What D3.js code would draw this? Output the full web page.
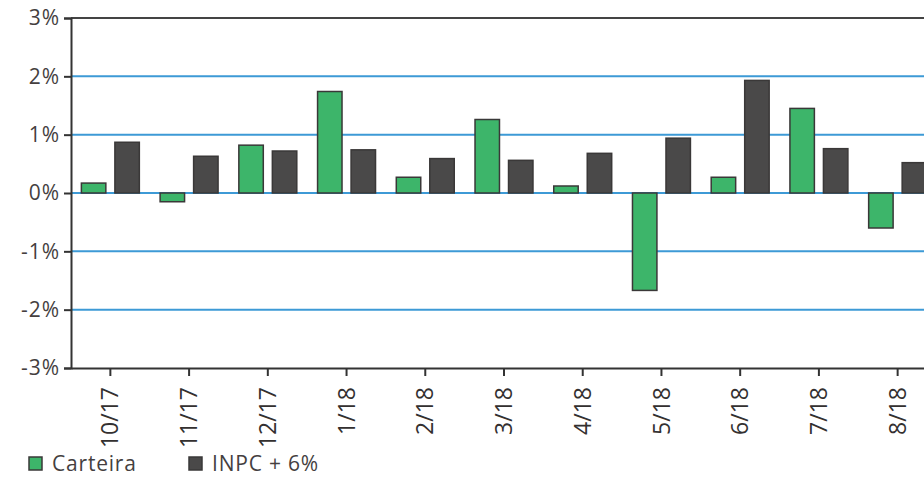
<!DOCTYPE html>
<html>
<head>
<meta charset="utf-8">
<script src="https://cdn.jsdelivr.net/npm/d3@7"></script>
<style>
  body { margin: 0; background: #fff; overflow: hidden; }
  svg { display: block; }
</style>
</head>
<body>
<div id="chart"></div>
<script>
(function () {

var months = ["10/17", "11/17", "12/17", "1/18", "2/18", "3/18", "4/18", "5/18", "6/18", "7/18", "8/18"];
var carteira = [0.17, -0.15, 0.82, 1.74, 0.27, 1.26, 0.12, -1.67, 0.27, 1.45, -0.6];
var inpc = [0.87, 0.63, 0.72, 0.74, 0.59, 0.56, 0.68, 0.94, 1.93, 0.76, 0.52];
var seriesNames = ["Carteira", "INPC + 6%"];
var yTicks = [-3, -2, -1, 0, 1, 2, 3];

var width = 924, height = 477;
var colors = { "Carteira": "#3db56a", "INPC + 6%": "#4a4949" };
var font = "'Open Sans', 'DejaVu Sans', sans-serif";

var svg = d3.select("#chart").append("svg")
    .attr("width", width)
    .attr("height", height);

// plot spans past the right edge like the scan
var x = d3.scaleBand().domain(months).range([71, 937]).padding(0);
var xs = d3.scaleBand().domain(seriesNames).range([0, x.bandwidth()])
    .paddingInner(0.27).paddingOuter(0.31);
var y = d3.scaleLinear().domain([-3, 3]).range([368, 18]);

var data = months.map(function (m, i) {
  return { month: m, values: [
    { name: "Carteira", v: carteira[i] },
    { name: "INPC + 6%", v: inpc[i] }
  ]};
});

// grid lines
svg.append("g").selectAll("line")
  .data(yTicks.filter(function (t) { return t > -3 && t < 3; }))
  .enter().append("line")
    .attr("x1", x.range()[0]).attr("x2", x.range()[1])
    .attr("y1", function (d) { return y(d); })
    .attr("y2", function (d) { return y(d); })
    .style("stroke", "#3d9ad6")
    .style("stroke-width", 2);

// top border
svg.append("line")
    .attr("x1", x.range()[0]).attr("x2", x.range()[1])
    .attr("y1", y(3)).attr("y2", y(3))
    .style("stroke", "#444")
    .style("stroke-width", 2);

// bars
var groups = svg.append("g").selectAll("g")
  .data(data)
  .enter().append("g")
    .attr("transform", function (d) { return "translate(" + x(d.month) + ",0)"; });

groups.selectAll("rect")
  .data(function (d) { return d.values; })
  .enter().append("rect")
    .attr("x", function (d) { return xs(d.name); })
    .attr("width", xs.bandwidth())
    .attr("y", function (d) { return y(Math.max(0, d.v)); })
    .attr("height", function (d) { return Math.abs(y(d.v) - y(0)); })
    .style("fill", function (d) { return colors[d.name]; })
    .style("stroke", "#3a3838")
    .style("stroke-width", 1.5);

// y axis
var yAxis = svg.append("g")
    .attr("transform", "translate(" + x.range()[0] + ",0)")
    .call(d3.axisLeft(y).tickValues(yTicks)
      .tickFormat(function (d) { return d + "%"; })
      .tickSize(7).tickPadding(4));
yAxis.select(".domain").style("stroke", "#333").style("stroke-width", 2);
yAxis.selectAll(".tick line").style("stroke", "#333").style("stroke-width", 2);
yAxis.selectAll("text")
    .style("font-family", font)
    .style("font-size", "21px")
    .style("letter-spacing", "1px")
    .style("fill", "#453f3f");

// x axis
var xAxis = svg.append("g")
    .attr("transform", "translate(0," + y(-3) + ")")
    .call(d3.axisBottom(x).tickSize(8).tickSizeOuter(0));
xAxis.select(".domain").style("stroke", "#333").style("stroke-width", 2);
xAxis.selectAll(".tick line").style("stroke", "#333").style("stroke-width", 2);
xAxis.selectAll("text")
    .attr("transform", "rotate(-90)")
    .attr("text-anchor", "end")
    .attr("x", -19)
    .attr("y", 0)
    .attr("dy", "0.35em")
    .style("font-family", font)
    .style("font-size", "23px")
    .style("fill", "#333030");

// legend
var legend = svg.append("g").selectAll("g")
  .data(seriesNames)
  .enter().append("g")
    .attr("transform", function (d, i) { return "translate(" + (29 + i * 160) + ",457)"; });

legend.append("rect")
    .attr("width", 13).attr("height", 13)
    .style("fill", function (d) { return colors[d]; })
    .style("stroke", "#3a3838")
    .style("stroke-width", 1.5);

legend.append("text")
    .attr("x", 23)
    .attr("y", 6.5)
    .attr("dy", "0.35em")
    .style("font-family", font)
    .style("font-size", "21px")
    .style("letter-spacing", "0.8px")
    .style("fill", "#453f3f")
    .text(function (d) { return d; });

})();
</script>
</body>
</html>
